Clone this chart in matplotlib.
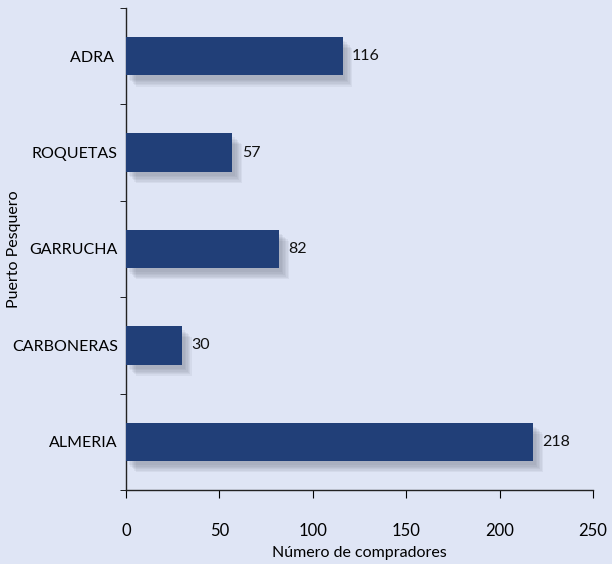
import numpy as np
import matplotlib.pyplot as plt
import matplotlib.patheffects as pe

puertos = ['ALMERIA', 'CARBONERAS', 'GARRUCHA', 'ROQUETAS', 'ADRA ']
compradores = [218, 30, 82, 57, 116]

bg = '#dfe5f5'
bar_color = '#213f78'

plt.rcParams['font.family'] = ['Lato', 'DejaVu Sans']

fig = plt.figure(figsize=(6.12, 5.64), dpi=100, facecolor=bg)
ax = fig.add_axes([126 / 612, 1 - 490 / 564, (593 - 126) / 612, (490 - 8) / 564])
ax.set_facecolor(bg)

y = np.arange(len(puertos))
bars = ax.barh(y, compradores, height=0.4, color=bar_color, zorder=3)

# soft shadow: a few stacked faint shadows
shadow = []
for d in [(7, -8), (6, -7), (5, -6), (4, -5), (3, -4), (2, -3)]:
    shadow.append(pe.SimplePatchShadow(offset=d, shadow_rgbFace='#505666', alpha=0.07))
shadow.append(pe.Normal())
for b in bars:
    b.set_path_effects(shadow)

for yi, v in zip(y, compradores):
    ax.text(v + 5, yi, str(v), va='center', ha='left', fontsize=11.5, color='#111111')

ax.set_xlim(0, 250)
ax.set_ylim(-0.5, len(puertos) - 0.5)
ax.set_xticks([0, 50, 100, 150, 200, 250])
ax.set_yticks(y)
ax.set_yticklabels(puertos)
ax.set_yticks(np.arange(-0.5, len(puertos), 1), minor=True)
ax.tick_params(axis='y', which='major', length=0, pad=6, labelsize=11.5)
ax.tick_params(axis='y', which='minor', length=4, direction='out')
ax.tick_params(axis='x', which='major', direction='out', length=6, pad=18, labelsize=12)

for s in ['top', 'right']:
    ax.spines[s].set_visible(False)
for s in ['left', 'bottom']:
    ax.spines[s].set_color('#222222')
    ax.spines[s].set_linewidth(1.0)

ax.set_xlabel('Número de compradores', fontsize=11.5, labelpad=5)
ax.yaxis.set_label_coords(-0.225, 0.5)
ax.set_ylabel('Puerto Pesquero', fontsize=11.5)

fig.savefig('out.png', dpi=100, facecolor=bg)
